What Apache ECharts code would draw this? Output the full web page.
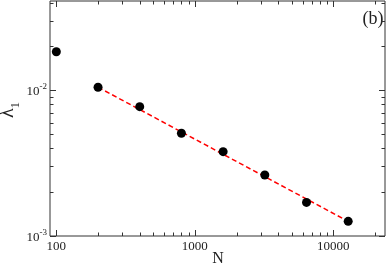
<!DOCTYPE html>
<html>
<head>
<meta charset="utf-8">
<script src="https://cdn.jsdelivr.net/npm/echarts@6/dist/echarts.min.js"></script>
<style>html,body{margin:0;padding:0;background:#fff}#c{width:387px;height:266px}</style>
</head>
<body>
<div id="c"></div>
<script>
const nValues = [100, 200, 400, 800, 1600, 3200, 6400, 12800];
const lambdaValues = [0.0184, 0.0105, 0.00772, 0.00507, 0.00379, 0.00262, 0.00170, 0.00126];
const fitN = [200, 12800];
const fitLambda = [0.0105, 0.00126];
const xMajorTicks = [100, 1000, 10000];
const xMinorTicks = [200, 300, 400, 500, 600, 700, 800, 900, 2000, 3000, 4000, 5000, 6000, 7000, 8000, 9000, 20000];
const yMajorTicks = [0.001, 0.01];
const yMinorTicks = [0.002, 0.003, 0.004, 0.005, 0.006, 0.007, 0.008, 0.009, 0.02, 0.03, 0.04];
const xMin = 90, xMax = 23600, yMin = 0.001, yMax = 0.041;

const FONT = '"Liberation Serif", "DejaVu Serif", serif';
const chart = echarts.init(document.getElementById('c'), null, {renderer: 'canvas'});

function isPow10(v) {
  const l = Math.log10(v);
  return Math.abs(l - Math.round(l)) < 1e-6;
}

const tickData = [];
xMajorTicks.forEach(v => tickData.push([v, yMin, 0, 6]));
xMinorTicks.forEach(v => tickData.push([v, yMin, 0, 3.5]));
yMajorTicks.forEach(v => tickData.push([xMin, v, 1, 6]));
yMinorTicks.forEach(v => tickData.push([xMin, v, 1, 3.5]));

function renderTicks(params, api) {
  const cs = params.coordSys;
  const p = api.coord([api.value(0), api.value(1)]);
  const kind = api.value(2);
  const len = api.value(3);
  const style = {stroke: '#333', lineWidth: 1};
  if (kind === 0) {
    const x = Math.round(p[0]) + 0.5;
    return {type: 'group', children: [
      {type: 'line', shape: {x1: x, y1: cs.y + cs.height, x2: x, y2: cs.y + cs.height - len}, style},
      {type: 'line', shape: {x1: x, y1: cs.y, x2: x, y2: cs.y + len}, style}
    ]};
  } else {
    const y = Math.round(p[1]) + 0.5;
    return {type: 'group', children: [
      {type: 'line', shape: {x1: cs.x, y1: y, x2: cs.x + len, y2: y}, style},
      {type: 'line', shape: {x1: cs.x + cs.width, y1: y, x2: cs.x + cs.width - len, y2: y}, style}
    ]};
  }
}

chart.setOption({
  animation: false,
  grid: {left: 50, top: 1, right: 2, bottom: 30, show: true, borderColor: '#333', borderWidth: 1, backgroundColor: 'transparent'},
  xAxis: {
    type: 'log', min: xMin, max: xMax, logBase: 10,
    axisLine: {show: false}, axisTick: {show: false}, splitLine: {show: false}, minorTick: {show: false},
    axisLabel: {
      margin: 4, color: '#222', fontFamily: FONT, fontSize: 13,
      showMinLabel: false, showMaxLabel: false,
      formatter: v => (isPow10(v) ? String(Math.round(v)) : '')
    }
  },
  yAxis: {
    type: 'log', min: yMin, max: yMax, logBase: 10,
    axisLine: {show: false}, axisTick: {show: false}, splitLine: {show: false}, minorTick: {show: false},
    axisLabel: {
      margin: 3, color: '#222', fontFamily: FONT, fontSize: 13,
      showMaxLabel: false,
      formatter: v => (isPow10(v) ? '{b|10}{s|' + Math.round(Math.log10(v)) + '}' : ''),
      rich: {
        b: {fontFamily: FONT, fontSize: 13, color: '#222', lineHeight: 16, verticalAlign: 'bottom'},
        s: {fontFamily: FONT, fontSize: 9, color: '#222', lineHeight: 16, verticalAlign: 'top'}
      }
    }
  },
  graphic: [
    {type: 'text', x: 218, y: 259, style: {text: 'N', font: '16px ' + FONT, fill: '#222', align: 'center', verticalAlign: 'middle'}},
    {type: 'text', x: 373, y: 19, style: {text: '(b)', font: '18px ' + FONT, fill: '#222', align: 'center', verticalAlign: 'middle'}},
    {type: 'text', x: 10, y: 110, rotation: Math.PI / 2,
      style: {text: '{l|λ}{s|1}', align: 'center', verticalAlign: 'middle', fill: '#222',
        rich: {
          l: {fontFamily: FONT, fontSize: 20, fill: '#222', lineHeight: 24, verticalAlign: 'top'},
          s: {fontFamily: FONT, fontSize: 13, fill: '#222', lineHeight: 24, verticalAlign: 'bottom'}
        }}}
  ],
  series: [
    {type: 'custom', renderItem: renderTicks, data: tickData, silent: true, z: 1, clip: false},
    {type: 'line', data: fitN.map((n, i) => [n, fitLambda[i]]), symbol: 'none', silent: true, z: 2,
      lineStyle: {color: '#f00', width: 1.5, type: [5, 3]}},
    {type: 'scatter', data: nValues.map((n, i) => [n, lambdaValues[i]]), symbol: 'circle', symbolSize: 9,
      itemStyle: {color: '#000', opacity: 1}, z: 3}
  ]
});
</script>
</body>
</html>
